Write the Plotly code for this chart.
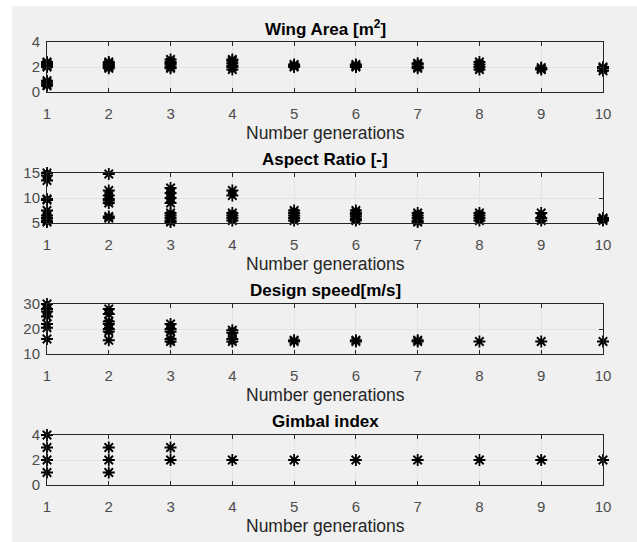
import plotly.graph_objects as go

W, H = 637, 542

generations = [1, 2, 3, 4, 5, 6, 7, 8, 9, 10]

# Population values per generation
wing_area = {
    1: [2.4, 2.3, 2.2, 2.1, 2.0, 0.9, 0.75, 0.6, 0.5],
    2: [2.4, 2.3, 2.2, 2.1, 2.0, 1.9],
    3: [2.6, 2.4, 2.3, 2.2, 2.0, 1.9],
    4: [2.6, 2.5, 2.3, 2.1, 2.0, 1.8],
    5: [2.2, 2.1, 2.0],
    6: [2.2, 2.1, 2.0],
    7: [2.3, 2.2, 2.0, 1.9],
    8: [2.4, 2.2, 2.0, 1.8],
    9: [1.95, 1.85, 1.8],
    10: [2.0, 1.9, 1.7],
}
aspect_ratio = {
    1: [15.0, 14.5, 13.5, 9.8, 9.6, 7.5, 6.5, 6.0, 5.5, 5.2],
    2: [14.8, 11.5, 10.5, 9.8, 9.5, 9.0, 6.3, 6.0],
    3: [12.0, 11.0, 10.0, 9.0, 7.0, 6.5, 6.0, 5.5, 5.2],
    4: [11.5, 10.5, 7.0, 6.5, 6.0, 5.5],
    5: [7.5, 7.0, 6.5, 6.0, 5.5],
    6: [7.5, 7.0, 6.7, 6.3, 5.8, 5.5],
    7: [7.0, 6.5, 6.0, 5.5, 5.2],
    8: [7.0, 6.5, 6.0, 5.5],
    9: [7.0, 6.0, 5.5],
    10: [6.0, 5.8, 5.5],
}
design_speed = {
    1: [30.0, 28.0, 27.0, 25.0, 22.0, 20.5, 16.0],
    2: [28.0, 26.0, 23.0, 22.0, 20.0, 19.0, 15.5],
    3: [22.0, 20.0, 19.0, 16.0, 15.0],
    4: [19.5, 18.5, 16.0, 15.0],
    5: [15.5, 15.0],
    6: [15.5, 15.0],
    7: [15.5, 15.0],
    8: [15.0],
    9: [15.0],
    10: [15.0],
}
gimbal_index = {
    1: [4, 3, 2, 1],
    2: [3, 2, 1],
    3: [3, 2],
    4: [2], 5: [2], 6: [2], 7: [2], 8: [2], 9: [2], 10: [2],
}

titles = ["Wing Area [m<sup>2</sup>]", "Aspect Ratio [-]", "Design speed[m/s]", "Gimbal index"]
y_ranges = [[0, 4], [5, 15], [10, 30], [0, 4]]
y_ticks = [[0, 2, 4], [5, 10, 15], [10, 20, 30], [0, 2, 4]]
x_label = "Number generations"

series = [wing_area, aspect_ratio, design_speed, gimbal_index]

# pixel boxes of the four axes (top, bottom)
left_px, right_px = 47, 603
boxes = [(42, 92), (173, 223), (304, 354), (435, 485)]

fig = go.Figure()
FONT = "Liberation Sans, Arial, Helvetica, sans-serif"
AX = "#262626"
TICK = "#4d4d4d"

annotations = []
for i, (data, (top, bot)) in enumerate(zip(series, boxes)):
    n = i + 1
    xs, ys = [], []
    for g in generations:
        for v in data.get(g, []):
            xs.append(g)
            ys.append(v)
    xa = "x" if n == 1 else f"x{n}"
    ya = "y" if n == 1 else f"y{n}"
    fig.add_trace(go.Scatter(
        x=xs, y=ys, mode="markers", xaxis=xa, yaxis=ya,
        marker=dict(symbol="asterisk-open", size=10, color="black",
                    line=dict(color="black", width=1.8)),
        showlegend=False, cliponaxis=False,
    ))
    dom_y = [1 - bot / H, 1 - top / H]
    axis_common = dict(
        showline=True, linecolor=AX, linewidth=1, mirror="ticks",
        ticks="inside", ticklen=4, tickcolor=AX,
        showgrid=True, gridcolor="#e3e3e3", gridwidth=1,
        zeroline=False, tickfont=dict(family=FONT, size=15, color=TICK),
    )
    fig.update_layout(**{
        ("xaxis" if n == 1 else f"xaxis{n}"): dict(
            domain=[left_px / W, right_px / W], anchor=ya,
            range=[1, 10], tickvals=generations, ticklabelstandoff=8,
            **axis_common),
        ("yaxis" if n == 1 else f"yaxis{n}"): dict(
            domain=dom_y, anchor=xa, range=y_ranges[i],
            tickvals=y_ticks[i], ticklabelstandoff=3, **axis_common),
    })
    cx = (left_px + right_px) / 2 / W
    annotations.append(dict(
        text=f"<b>{titles[i]}</b>", x=cx, y=1 - (top - 14) / H,
        xref="paper", yref="paper", xanchor="center", yanchor="middle",
        showarrow=False, font=dict(family=FONT, size=17, color="black")))
    annotations.append(dict(
        text=x_label, x=cx, y=1 - (bot + 41) / H,
        xref="paper", yref="paper", xanchor="center", yanchor="middle",
        showarrow=False, font=dict(family=FONT, size=17.5, color="#262626")))

fig.update_layout(
    width=W, height=H,
    margin=dict(l=0, r=0, t=0, b=0, autoexpand=False),
    paper_bgcolor="white", plot_bgcolor="white",
    annotations=annotations,
    shapes=[dict(type="rect", xref="paper", yref="paper",
                 x0=12 / W, x1=1, y0=0, y1=1 - 6 / H,
                 fillcolor="#f0f0f0", line=dict(width=0), layer="below")],
)

fig.write_html("out.html")
